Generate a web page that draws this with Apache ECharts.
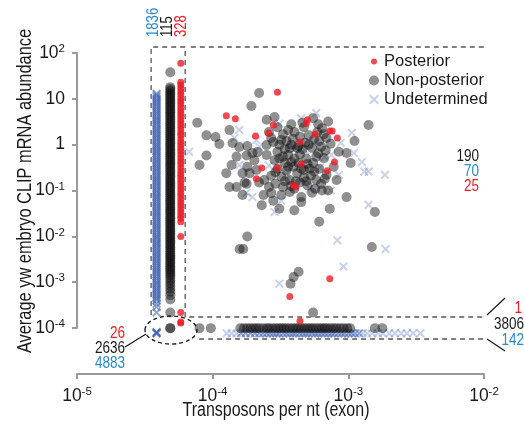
<!DOCTYPE html>
<html><head><meta charset="utf-8">
<script src="https://cdn.jsdelivr.net/npm/echarts@6/dist/echarts.min.js"></script>
<style>html,body{margin:0;padding:0;background:#fff}#chart{width:524px;height:430px}</style>
</head><body><div id="chart"></div>
<script>
// ---- Data: transposon density (per nt, exon) vs. CLIP mRNA abundance ----

// Genes with no exon transposons: plotted in three narrow columns
const zeroTeX = { posterior: 5.82e-5, nonPosterior: 4.87e-5, undetermined: 3.86e-5 };
const posteriorColumnY = [60, 23, 20, 17, 14.5, 12.5, 10.5, 9, 7.7, 6.6, 5.6, 4.8, 4.1, 3.5, 3.0, 2.55, 2.2, 1.85, 1.6, 1.35, 1.15, 0.98, 0.84, 0.72, 0.61, 0.52, 0.44, 0.38, 0.32, 0.27, 0.23, 0.2, 0.17, 0.145, 0.123, 0.105, 0.09, 0.077, 0.065, 0.055, 0.047, 0.04, 0.034, 0.029, 0.025, 0.021, 0.01, 0.00022];
const nonPosteriorColumnY = [38, 18, 16.5, 15, 13.8, 12.6, 11.5, 10.5, 9.6, 8.8, 8, 7.3, 6.7, 6.1, 5.6, 5.1, 4.65, 4.25, 3.9, 3.55, 3.25, 2.95, 2.7, 2.45, 2.25, 2.05, 1.87, 1.7, 1.55, 1.42, 1.3, 1.18, 1.08, 0.98, 0.9, 0.82, 0.75, 0.68, 0.62, 0.57, 0.52, 0.47, 0.43, 0.39, 0.36, 0.33, 0.3, 0.27, 0.25, 0.225, 0.205, 0.187, 0.17, 0.155, 0.142, 0.13, 0.118, 0.108, 0.098, 0.09, 0.082, 0.075, 0.068, 0.062, 0.057, 0.052, 0.047, 0.043, 0.039, 0.036, 0.033, 0.03, 0.027, 0.025, 0.0225, 0.0205, 0.0187, 0.017, 0.0155, 0.0142, 0.013, 0.0118, 0.0108, 0.0098, 0.009, 0.0082, 0.0075, 0.0068, 0.0062, 0.0057, 0.0052, 0.0047, 0.0043, 0.0039, 0.0036, 0.0033, 0.003, 0.0027, 0.0025, 0.00225, 0.00205, 0.00187, 0.0017, 0.00155, 0.0014, 0.00125, 0.0011, 0.00096, 0.00084, 0.00072, 0.00062, 0.00052, 0.00042, 0.00022];
const undeterminedColumnY = [13, 12, 11, 10, 9.2, 8.4, 7.7, 7.0, 6.4, 5.8, 5.3, 4.85, 4.4, 4.0, 3.65, 3.35, 3.05, 2.8, 2.55, 2.3, 2.1, 1.92, 1.75, 1.6, 1.46, 1.33, 1.21, 1.1, 1.0, 0.92, 0.84, 0.76, 0.7, 0.64, 0.58, 0.53, 0.48, 0.44, 0.4, 0.365, 0.335, 0.305, 0.28, 0.255, 0.23, 0.21, 0.192, 0.175, 0.16, 0.146, 0.133, 0.121, 0.11, 0.1, 0.092, 0.084, 0.076, 0.07, 0.064, 0.058, 0.053, 0.048, 0.044, 0.04, 0.0365, 0.0335, 0.0305, 0.028, 0.0255, 0.023, 0.021, 0.0192, 0.0175, 0.016, 0.0146, 0.0133, 0.0121, 0.011, 0.01, 0.0092, 0.0084, 0.0076, 0.007, 0.0064, 0.0058, 0.0053, 0.0048, 0.0044, 0.004, 0.00365, 0.00335, 0.00305, 0.0028, 0.00255, 0.0023, 0.0021, 0.00192, 0.00175, 0.0016, 0.00146, 0.00133, 0.00121, 0.0011, 0.001, 0.00092, 0.00084, 0.00076, 0.0007, 0.00064, 0.00058, 0.00053, 0.00048, 0.00044, 0.0004, 0.00034, 0.00029, 0.00022];

// Genes with no CLIP signal: plotted in rows near the bottom
const zeroClipY = { posterior: 1.43e-4, nonPosterior: 1e-4, undetermined: 7.7e-5 };
const posteriorRowX = [4.4e-4];
const nonPosteriorRowX = [8.0e-5, 9.7e-5, 1.6e-4, 1.7e-4, 1.8e-4, 1.9e-4, 2.0e-4, 2.1e-4, 2.2e-4, 2.35e-4, 2.5e-4, 2.6e-4, 2.75e-4, 2.9e-4, 3.05e-4, 3.2e-4, 3.35e-4, 3.5e-4, 3.7e-4, 3.9e-4, 4.1e-4, 4.3e-4, 4.5e-4, 4.75e-4, 5.0e-4, 5.25e-4, 5.5e-4, 5.8e-4, 6.1e-4, 6.4e-4, 6.7e-4, 7.0e-4, 7.4e-4, 7.8e-4, 8.2e-4, 8.7e-4, 9.2e-4, 9.8e-4, 1.03e-3, 1.57e-3, 1.78e-3];
const undeterminedRowDenseX = [1.62e-4, 1.75e-4, 1.9e-4, 2.05e-4, 2.2e-4, 2.35e-4, 2.5e-4, 2.65e-4, 2.8e-4, 2.95e-4, 3.1e-4, 3.3e-4, 3.5e-4, 3.7e-4, 3.9e-4, 4.1e-4, 4.35e-4, 4.6e-4, 4.85e-4, 5.1e-4, 5.4e-4, 5.7e-4, 6.0e-4, 6.35e-4, 6.7e-4, 7.1e-4, 7.5e-4, 7.9e-4, 8.4e-4, 8.9e-4, 9.4e-4, 1.0e-3, 1.06e-3, 1.12e-3, 1.2e-3];
const undeterminedRowSparseX = [1.27e-4, 1.38e-4, 1.5e-4, 1.28e-3, 1.38e-3, 1.5e-3, 1.65e-3, 1.8e-3, 2.0e-3, 2.2e-3, 2.45e-3, 2.7e-3, 3.0e-3, 3.4e-3];

// Genes with neither transposons nor CLIP signal
const posteriorCorner = [[5.82e-5, 1.36e-4], [5.82e-5, 1.3e-4]];
const nonPosteriorCorner = [[4.87e-5, 1e-4], [4.87e-5, 1e-4]];
const undeterminedCorner = [[3.86e-5, 7.9e-5], [3.86e-5, 7.6e-5], [3.86e-5, 8.2e-5], [3.86e-5, 7.9e-5]];

// Genes with both signals
const posteriorCloud = [[1.26e-4, 4.3], [1.47e-4, 3.7], [2.07e-4, 1.55], [2.1e-4, 0.18], [3.0e-4, 14], [2.8e-4, 2.7], [2.58e-4, 1.8], [5.0e-4, 3.5], [4.9e-4, 2.9], [5.7e-4, 1.7], [7.3e-4, 2.0], [7.6e-4, 2.0], [8.3e-4, 1.4], [4.4e-4, 1.15], [4.5e-4, 0.38], [3.0e-4, 0.31], [2.3e-4, 0.31], [7.9e-4, 0.42], [7.0e-4, 0.27], [3.95e-4, 0.13], [4.1e-4, 0.12], [7.3e-4, 0.0012], [3.7e-4, 4.9e-4]];
const nonPosteriorCloud = [[7.7e-5, 3.0], [9.0e-5, 1.6], [1.05e-4, 1.47], [1.12e-4, 1.04], [8.0e-5, 0.36], [9.0e-5, 0.58], [1.33e-4, 2.1], [1.4e-4, 1.09], [1.57e-4, 0.89], [1.8e-4, 0.94], [1.96e-4, 0.66], [2.14e-4, 0.69], [2.2e-4, 13.4], [1.93e-4, 7.0], [1.78e-4, 0.58], [2.03e-4, 0.46], [1.8e-4, 0.33], [1.66e-4, 0.24], [1.5e-4, 0.12], [1.78e-4, 0.14], [1.66e-4, 0.08], [1.33e-4, 0.12], [2.1e-4, 0.28], [2.2e-4, 0.15], [1.87e-4, 0.24], [1.72e-4, 0.15], [1.5e-4, 0.55], [1.38e-4, 0.36], [1.26e-4, 0.24],
  [2.5e-4, 3.5], [2.86e-4, 4.0], [3.6e-4, 2.1], [4.0e-4, 1.9], [4.7e-4, 2.4], [5.5e-4, 3.8], [6.4e-4, 2.3], [6.9e-4, 1.4], [6.1e-4, 1.2], [5.4e-4, 0.85], [4.8e-4, 1.1], [4.2e-4, 0.85], [3.7e-4, 0.85], [3.2e-4, 1.27], [2.8e-4, 1.15], [2.5e-4, 0.98], [2.5e-4, 0.6], [2.86e-4, 0.46], [3.4e-4, 0.4], [3.95e-4, 0.33], [4.7e-4, 0.28], [5.5e-4, 0.4], [6.6e-4, 0.51], [8.5e-4, 0.7], [9.7e-4, 0.66], [1.04e-3, 0.4], [7.8e-4, 0.33], [6.9e-4, 0.22], [5.8e-4, 0.17], [5.0e-4, 0.13], [4.4e-4, 0.15], [3.7e-4, 0.17], [3.2e-4, 0.2], [2.7e-4, 0.21], [2.4e-4, 0.17], [2.37e-4, 0.08], [2.7e-4, 0.088], [3.2e-4, 0.08], [3.7e-4, 0.093], [4.5e-4, 0.072], [5.4e-4, 0.09], [6.4e-4, 0.1], [7.3e-4, 0.04], [8.2e-4, 0.17], [9.7e-4, 0.072], [1.11e-3, 1.2], [1.41e-3, 2.7], [1.57e-3, 0.034], [3.1e-4, 0.04], [4.0e-4, 0.037], [4.5e-4, 0.056], [7.1e-4, 0.1], [2.3e-4, 0.048], [2.8e-4, 0.06],
  [3.0e-4, 0.7], [3.3e-4, 0.55], [3.6e-4, 0.6], [4.0e-4, 0.5], [4.4e-4, 0.62], [4.9e-4, 0.5], [3.0e-4, 0.3], [3.5e-4, 0.27], [4.2e-4, 0.24], [5.2e-4, 0.3], [6.0e-4, 0.65], [3.3e-4, 1.7], [3.9e-4, 1.35], [4.4e-4, 1.5], [5.1e-4, 1.6], [5.9e-4, 1.9], [2.6e-4, 1.9], [3.0e-4, 2.4], [3.3e-4, 0.12], [4.0e-4, 0.11], [4.7e-4, 0.19], [5.6e-4, 0.26], [2.9e-4, 0.14], [6.3e-4, 0.14],
  [2.7e-4, 1.4], [3.1e-4, 1.0], [3.5e-4, 1.2], [3.8e-4, 1.0], [4.3e-4, 0.95], [4.6e-4, 0.8], [5.1e-4, 1.0], [5.6e-4, 1.3], [6.3e-4, 0.9], [6.6e-4, 1.7], [3.4e-4, 0.8], [3.1e-4, 0.5], [3.8e-4, 0.42], [4.3e-4, 0.4], [5.0e-4, 0.38], [5.8e-4, 0.55], [6.8e-4, 0.75], [7.4e-4, 1.05], [2.9e-4, 0.25], [3.6e-4, 0.33], [4.5e-4, 0.3], [5.3e-4, 0.21], [6.1e-4, 0.3], [3.4e-4, 0.16], [4.1e-4, 0.16], [4.9e-4, 0.16], [5.7e-4, 0.11], [3.8e-4, 0.125], [2.6e-4, 0.12], [6.7e-4, 0.18], [4.6e-4, 3.0], [3.8e-4, 2.8], [6.0e-4, 2.8], [7.1e-4, 3.2],
  [6.1e-4, 0.021], [1.49e-3, 0.0059], [4.3e-4, 0.0017], [3.95e-4, 0.0013], [3.75e-4, 0.00093], [5.5e-4, 2.2e-4], [1.58e-4, 0.0053], [1.68e-4, 0.0053], [1.8e-4, 0.01]];
const undeterminedCloud = [[6.7e-5, 0.7], [1.57e-4, 2.1], [1.45e-4, 1.4], [1.57e-4, 0.36], [1.96e-4, 0.072], [1.78e-4, 0.09], [2.1e-4, 1.27], [4.5e-4, 3.8], [5.8e-4, 4.9], [1.06e-3, 1.8], [1.26e-3, 0.42], [1.31e-3, 0.26], [1.41e-3, 0.26], [1.86e-3, 0.22], [1.1e-3, 0.66], [6.7e-4, 0.54], [7.4e-4, 0.1], [1.41e-3, 0.049], [8.5e-4, 0.22], [4.0e-4, 0.78], [3.2e-4, 0.06], [2.86e-4, 0.034], [8.3e-4, 0.0083], [1.88e-3, 0.0053], [9.2e-4, 0.0022], [3.1e-4, 0.00093],
  [2.6e-4, 0.35], [3.5e-4, 0.23], [4.8e-4, 0.75], [5.6e-4, 1.05], [3.1e-4, 2.9], [6.2e-4, 0.32], [2.2e-4, 0.9], [7.5e-4, 0.6], [8.8e-4, 1.1], [5.2e-4, 0.11]];

// Group sizes shown beside each region
const zeroTeCounts = [1836, 115, 328];      // undetermined, non-posterior, posterior
const cloudCounts = [190, 70, 25];          // non-posterior, undetermined, posterior
const zeroClipCounts = [1, 3806, 142];      // posterior, non-posterior, undetermined
const cornerCounts = [26, 2636, 4883];      // posterior, non-posterior, undetermined

const xTitle = 'Transposons per nt (exon)';
const yTitle = 'Average yw embryo CLIP mRNA abundance';

// ---- Styling ----
const FONT = "'Liberation Sans', Arial, sans-serif";
const NARROW = 0.82;                         // horizontal squeeze for the condensed lettering
const RED = '#ee1c25';
const GREY = 'rgba(15,15,15,0.58)';
const BLUE_LIGHT = 'rgba(62,96,178,0.36)';  // isolated crosses
const BLUE_DENSE = 'rgba(62,96,178,0.7)';   // heavily over-plotted groups
const TXT_BLUE = '#2b88d0';
const INK = '#1a1a1a';
const AXIS_GREY = '#9a9a9a';
const CROSS = 'path://M0,1.5L1.5,0L5,3.5L8.5,0L10,1.5L6.5,5L10,8.5L8.5,10L5,6.5L1.5,10L0,8.5L3.5,5Z';
const SMALL_DOT = 'path://M0,0M10,10M2,5A3,3,0,1,1,8,5A3,3,0,1,1,2,5Z';

function powLabel(v) {
  const e = Math.round(Math.log10(v));
  if (e === 0) return '{b|1}';
  if (e === 1) return '{b|10}';
  return '{b|10}{s|' + e + '}';
}
const labelRich = {
  b: { fontSize: 17.5, fontFamily: FONT, color: INK, lineHeight: 20 },
  s: { fontSize: 11.5, fontFamily: FONT, color: INK, lineHeight: 11, verticalAlign: 'top' }
};

const col = (x, ys) => ys.map(y => [x, y]);
const row = (xs, y) => xs.map(x => [x, y]);

const undeterminedLightData = [].concat(row(undeterminedRowSparseX, zeroClipY.undetermined), undeterminedCloud);
const undeterminedDenseData = [].concat(col(zeroTeX.undetermined, undeterminedColumnY), row(undeterminedRowDenseX, zeroClipY.undetermined), undeterminedCorner);
const nonPosteriorData = [].concat(col(zeroTeX.nonPosterior, nonPosteriorColumnY), row(nonPosteriorRowX, zeroClipY.nonPosterior), nonPosteriorCorner, nonPosteriorCloud);
const posteriorData = [].concat(col(zeroTeX.posterior, posteriorColumnY), row(posteriorRowX, zeroClipY.posterior), posteriorCorner, posteriorCloud);

// Dashed region outlines (data coordinates)
const BOX_TOP = 135, ROW_TOP = 1.75e-4, ROW_BOTTOM = 5.8e-5, BOX_RIGHT = 1.07e-2;
const outlines = [
  [[3.52e-5, 1.94e-4], [3.52e-5, BOX_TOP], [6.27e-5, BOX_TOP], [6.27e-5, ROW_TOP], [BOX_RIGHT, ROW_TOP]],
  [[6.9e-5, BOX_TOP], [BOX_RIGHT, BOX_TOP], [BOX_RIGHT, ROW_BOTTOM], [7.5e-5, ROW_BOTTOM]]
];

const chart = echarts.init(document.getElementById('chart'), null, { renderer: 'canvas' });

const scatterBase = { type: 'scatter', xAxisIndex: 1, yAxisIndex: 1, silent: true, clip: false };

const option = {
  backgroundColor: '#fff',
  animation: false,
  textStyle: { fontFamily: FONT },
  grid: [
    { left: 77, right: 40, top: 53, bottom: 102, outerBoundsMode: 'none', containLabel: false },
    { left: 77, right: 40, top: 53, bottom: 56, outerBoundsMode: 'none', containLabel: false }
  ],
  xAxis: [
    { gridIndex: 0, type: 'log', min: 1e-5, max: 1e-2, show: false },
    {
      gridIndex: 1, type: 'log', logBase: 10, min: 1e-5, max: 1e-2, splitNumber: 3,
      axisLine: { show: true, lineStyle: { color: AXIS_GREY, width: 2 } },
      axisTick: { show: true, length: 5, lineStyle: { color: AXIS_GREY, width: 2 } },
      minorTick: { show: false }, splitLine: { show: false },
      axisLabel: { margin: 12, formatter: powLabel, rich: labelRich }
    }
  ],
  yAxis: [
    {
      gridIndex: 0, type: 'log', logBase: 10, min: 1e-4, max: 1e2, splitNumber: 6,
      axisLine: { show: true, lineStyle: { color: AXIS_GREY, width: 2 } },
      axisTick: { show: true, length: 5, lineStyle: { color: AXIS_GREY, width: 2 } },
      minorTick: { show: false }, splitLine: { show: false },
      axisLabel: { margin: 12, formatter: powLabel, rich: labelRich }
    },
    { gridIndex: 1, type: 'log', logBase: 10, min: 1e-5, max: 1e2, show: false }
  ],
  legend: {
    orient: 'vertical', left: 364, top: 47, itemWidth: 10, itemHeight: 10, itemGap: 0,
    selectedMode: false,
    textStyle: { fontSize: 16.5, fontFamily: FONT, color: INK, lineHeight: 19 },
    data: [
      { name: 'Posterior', icon: SMALL_DOT },
      { name: 'Non-posterior', icon: 'circle' },
      { name: 'Undetermined', icon: CROSS }
    ]
  },
  series: [
    Object.assign({}, scatterBase, { name: 'Undetermined', symbol: CROSS, symbolSize: 9, itemStyle: { color: BLUE_LIGHT }, data: undeterminedLightData }),
    Object.assign({}, scatterBase, { name: 'Undetermined', symbol: CROSS, symbolSize: 9, itemStyle: { color: BLUE_DENSE }, data: undeterminedDenseData }),
    Object.assign({}, scatterBase, { name: 'Non-posterior', symbol: 'circle', symbolSize: 10, itemStyle: { color: GREY }, data: nonPosteriorData }),
    Object.assign({}, scatterBase, { name: 'Posterior', symbol: 'circle', symbolSize: 7, itemStyle: { color: RED }, data: posteriorData })
  ].concat(outlines.map(pts => ({
    type: 'line', xAxisIndex: 1, yAxisIndex: 1, data: pts, showSymbol: false, symbol: 'none', silent: true, clip: false,
    lineStyle: { color: '#555', width: 1.3, type: [5, 4] }
  }))),
  graphic: []
};

// Text helper: condensed lettering via horizontal scale
const txt = (text, x, y, fill, align, size, rot) => ({
  type: 'text', x: x, y: y, rotation: rot || 0, scaleX: NARROW, silent: true,
  style: { text: String(text), fill: fill, font: size + 'px ' + FONT, align: align, verticalAlign: 'middle' }
});
const ln = (x1, y1, x2, y2) => ({ type: 'line', silent: true, shape: { x1, y1, x2, y2 }, style: { stroke: '#111', lineWidth: 1.1 } });

option.graphic = [
  // axis titles
  txt(xTitle, 276, 411, INK, 'center', 19.5),
  txt(yTitle, 25, 191, INK, 'center', 20, Math.PI / 2),
  // column counts (rotated)
  txt(zeroTeCounts[0], 154, 37, TXT_BLUE, 'left', 16, Math.PI / 2),
  txt(zeroTeCounts[1], 168, 37, INK, 'left', 16, Math.PI / 2),
  txt(zeroTeCounts[2], 182, 37, RED, 'left', 16, Math.PI / 2),
  // cloud counts
  txt(cloudCounts[0], 479, 156, INK, 'right', 16.5),
  txt(cloudCounts[1], 479, 171, TXT_BLUE, 'right', 16.5),
  txt(cloudCounts[2], 479, 186, RED, 'right', 16.5),
  // zero-CLIP row counts
  txt(zeroClipCounts[0], 522, 308, RED, 'right', 16.5),
  txt(zeroClipCounts[1], 524, 324, INK, 'right', 16.5),
  txt(zeroClipCounts[2], 524, 340, TXT_BLUE, 'right', 16.5),
  ln(487, 315, 505, 298), ln(487, 339, 505, 351),
  // corner counts
  txt(cornerCounts[0], 125, 333, RED, 'right', 16.5),
  txt(cornerCounts[1], 125, 348, INK, 'right', 16.5),
  txt(cornerCounts[2], 125, 363, TXT_BLUE, 'right', 16.5),
  ln(146, 334, 125, 347),
  { type: 'ellipse', silent: true, shape: { cx: 171, cy: 330, rx: 26, ry: 14 },
    style: { fill: 'none', stroke: '#222', lineWidth: 1.4, lineDash: [4, 3] } }
];

chart.setOption(option);
</script></body></html>
